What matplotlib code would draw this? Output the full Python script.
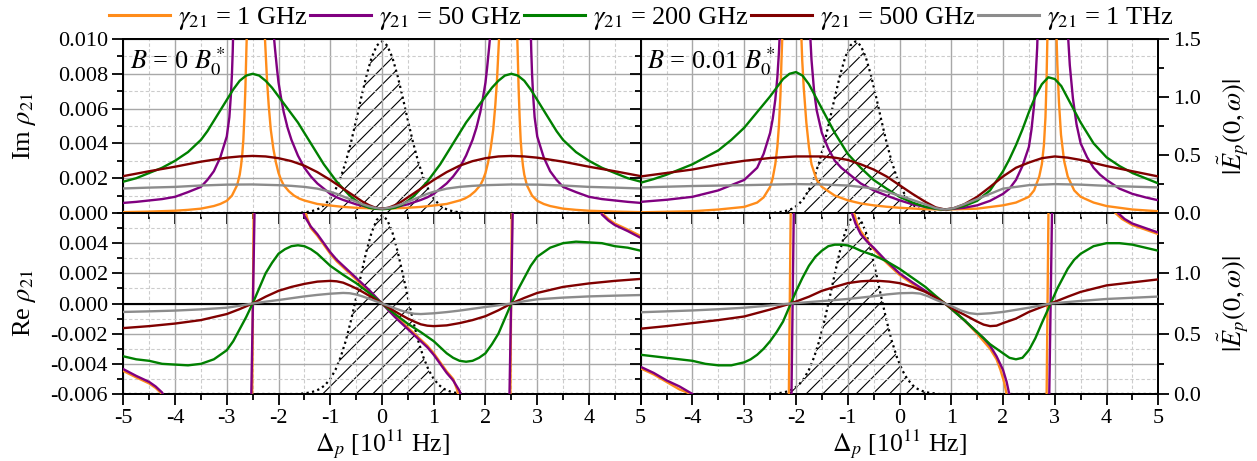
import matplotlib
matplotlib.use("Agg")
import matplotlib.pyplot as plt
from matplotlib.ticker import MultipleLocator, FixedLocator, FormatStrFormatter
from matplotlib.lines import Line2D

plt.rcParams['font.family'] = ['Liberation Serif', 'DejaVu Serif']
plt.rcParams['mathtext.fontset'] = 'stix'
plt.rcParams['axes.unicode_minus'] = False
plt.rcParams['hatch.linewidth'] = 0.8

# ---------------------------------------------------------------- data
series_labels = [r'$\gamma_{21}$ = 1 GHz', r'$\gamma_{21}$ = 50 GHz',
                 r'$\gamma_{21}$ = 200 GHz', r'$\gamma_{21}$ = 500 GHz',
                 r'$\gamma_{21}$ = 1 THz']
series_colors = ['#ff8c1a', '#800080', '#008000', '#800000', '#8c8c8c']
field_labels = [r'$B$ = 0 $B_0^*$', r'$B$ = 0.01 $B_0^*$']

# Im rho21, B = 0  (detuning in 1e11 Hz, value)
im_b0_1ghz = [(-5, 0.00005), (-4.5, 0.00008), (-4, 0.00013), (-3.75, 0.00018), (-3.5, 0.00025),
              (-3.25, 0.0004), (-3.125, 0.00052), (-3, 0.0007), (-2.95, 0.00085), (-2.9, 0.001),
              (-2.85, 0.0013), (-2.8, 0.0016), (-2.775, 0.0019), (-2.75, 0.0022), (-2.725, 0.0027),
              (-2.7, 0.0034), (-2.68, 0.0042), (-2.66, 0.0055), (-2.64, 0.0072), (-2.62, 0.0095),
              (-2.61, 0.0105), (-2.27, 0.0105), (-2.25, 0.0093), (-2.22, 0.0075), (-2.19, 0.0062),
              (-2.15, 0.0048), (-2.1, 0.0037), (-2.05, 0.0029), (-2.0, 0.0023), (-1.95, 0.0019),
              (-1.9, 0.0016), (-1.8, 0.00125), (-1.7, 0.001), (-1.6, 0.00083), (-1.5, 0.00072),
              (-1.25, 0.00052), (-1.0, 0.00043), (-0.75, 0.00035), (-0.5, 0.0003), (-0.25, 0.00027),
              (0, 0.00025),
              (0.25, 0.00027), (0.5, 0.0003), (0.75, 0.00035), (1.0, 0.00043), (1.25, 0.00052),
              (1.5, 0.00072), (1.6, 0.00083), (1.7, 0.001), (1.8, 0.00125), (1.9, 0.0016),
              (1.95, 0.0019), (2.0, 0.0023), (2.05, 0.0029), (2.1, 0.0037), (2.15, 0.0048),
              (2.19, 0.0062), (2.22, 0.0075), (2.25, 0.0093), (2.27, 0.0105), (2.61, 0.0105),
              (2.62, 0.0095), (2.64, 0.0072), (2.66, 0.0055), (2.68, 0.0042), (2.7, 0.0034),
              (2.725, 0.0027), (2.75, 0.0022), (2.775, 0.0019), (2.8, 0.0016), (2.85, 0.0013),
              (2.9, 0.001), (2.95, 0.00085), (3, 0.0007), (3.125, 0.00052), (3.25, 0.0004),
              (3.5, 0.00025), (3.75, 0.00018), (4, 0.00013), (4.5, 0.00008), (5, 0.00005)]
im_b0_50ghz = [(-5, 0.00058), (-4.75, 0.00064), (-4.5, 0.00072), (-4.25, 0.0008), (-4, 0.00093),
               (-3.75, 0.0012), (-3.5, 0.0015), (-3.375, 0.0019), (-3.25, 0.0024), (-3.125, 0.0032),
               (-3.0, 0.0044), (-2.95, 0.0055), (-2.92, 0.0068), (-2.9, 0.008), (-2.885, 0.0093),
               (-2.875, 0.0105), (-2.1, 0.0105), (-2.07, 0.0095), (-2.03, 0.0083),
               (-2.0, 0.0075), (-1.95, 0.0066), (-1.9, 0.0058), (-1.825, 0.0049), (-1.75, 0.0042),
               (-1.625, 0.0033), (-1.5, 0.0026), (-1.375, 0.0021), (-1.25, 0.0017),
               (-1.125, 0.0014), (-1.0, 0.0011), (-0.875, 0.0009), (-0.75, 0.00075),
               (-0.5, 0.0005), (-0.25, 0.00033), (0, 0.00025),
               (0.25, 0.00033), (0.5, 0.0005), (0.75, 0.00075), (0.875, 0.0009), (1.0, 0.0011),
               (1.125, 0.0014), (1.25, 0.0017), (1.375, 0.0021), (1.5, 0.0026), (1.625, 0.0033),
               (1.75, 0.0042), (1.825, 0.0049), (1.9, 0.0058), (1.95, 0.0066), (2.0, 0.0075),
               (2.03, 0.0083), (2.07, 0.0095), (2.1, 0.0105), (2.875, 0.0105), (2.885, 0.0093),
               (2.9, 0.008), (2.92, 0.0068), (2.95, 0.0055), (3.0, 0.0044), (3.125, 0.0032),
               (3.25, 0.0024), (3.375, 0.0019), (3.5, 0.0015), (3.75, 0.0012),
               (4, 0.00093), (4.25, 0.0008), (4.5, 0.00072), (4.75, 0.00064), (5, 0.00058)]
im_b0_200ghz = [(-5, 0.0018), (-4.75, 0.002), (-4.5, 0.0023), (-4.25, 0.0026), (-4, 0.003),
                (-3.75, 0.0035), (-3.5, 0.0042), (-3.375, 0.0047), (-3.25, 0.0053),
                (-3.125, 0.0059), (-3, 0.0065), (-2.875, 0.0071), (-2.75, 0.0076),
                (-2.625, 0.0079), (-2.5, 0.008), (-2.375, 0.0079), (-2.25, 0.0076),
                (-2.125, 0.0072), (-2, 0.0067), (-1.875, 0.0062), (-1.75, 0.0057),
                (-1.625, 0.0052), (-1.5, 0.0046), (-1.375, 0.004), (-1.25, 0.0034),
                (-1.125, 0.0028), (-1, 0.0023), (-0.875, 0.0018), (-0.75, 0.0014),
                (-0.625, 0.001), (-0.5, 0.0007), (-0.375, 0.00045), (-0.25, 0.0003),
                (-0.125, 0.00024), (0, 0.00022),
                (0.125, 0.00024), (0.25, 0.0003), (0.375, 0.00045), (0.5, 0.0007), (0.625, 0.001),
                (0.75, 0.0014), (0.875, 0.0018), (1, 0.0023), (1.125, 0.0028), (1.25, 0.0034),
                (1.375, 0.004), (1.5, 0.0046), (1.625, 0.0052), (1.75, 0.0057), (1.875, 0.0062),
                (2, 0.0067), (2.125, 0.0072), (2.25, 0.0076), (2.375, 0.0079), (2.5, 0.008),
                (2.625, 0.0079), (2.75, 0.0076), (2.875, 0.0071), (3, 0.0065), (3.125, 0.0059),
                (3.25, 0.0053), (3.375, 0.0047), (3.5, 0.0042), (3.75, 0.0035), (4, 0.003),
                (4.25, 0.0026), (4.5, 0.0023), (4.75, 0.002), (5, 0.0018)]
im_b0_500ghz = [(-5, 0.00212), (-4.5, 0.0024), (-4, 0.00266), (-3.5, 0.00295), (-3, 0.00318),
                (-2.75, 0.00325), (-2.5, 0.00328), (-2.25, 0.00325), (-2, 0.00315),
                (-1.75, 0.00298), (-1.5, 0.00272), (-1.25, 0.00235), (-1, 0.0019),
                (-0.875, 0.00165), (-0.75, 0.0014), (-0.625, 0.00115), (-0.5, 0.0009),
                (-0.375, 0.00065), (-0.25, 0.00045), (-0.125, 0.0003), (0, 0.00025),
                (0.125, 0.0003), (0.25, 0.00045), (0.375, 0.00065), (0.5, 0.0009),
                (0.625, 0.00115), (0.75, 0.0014), (0.875, 0.00165), (1, 0.0019), (1.25, 0.00235),
                (1.5, 0.00272), (1.75, 0.00298), (2, 0.00315), (2.25, 0.00325), (2.5, 0.00328),
                (2.75, 0.00325), (3, 0.00318), (3.5, 0.00295), (4, 0.00266), (4.5, 0.0024),
                (5, 0.00212)]
im_b0_1thz = [(-5, 0.00141), (-4.5, 0.00146), (-4, 0.0015), (-3.5, 0.00158), (-3, 0.00163),
              (-2.5, 0.00164), (-2, 0.0016), (-1.75, 0.00156), (-1.5, 0.0015), (-1.25, 0.0014),
              (-1, 0.00122), (-0.875, 0.0011), (-0.75, 0.00095), (-0.625, 0.0008),
              (-0.5, 0.00065), (-0.375, 0.0005), (-0.25, 0.00038), (-0.125, 0.00029), (0, 0.00025),
              (0.125, 0.00029), (0.25, 0.00038), (0.375, 0.0005), (0.5, 0.00065), (0.625, 0.0008),
              (0.75, 0.00095), (0.875, 0.0011), (1, 0.00122), (1.25, 0.0014), (1.5, 0.0015),
              (1.75, 0.00156), (2, 0.0016), (2.5, 0.00164), (3, 0.00163), (3.5, 0.00158),
              (4, 0.0015), (4.5, 0.00146), (5, 0.00141)]

# Re rho21, B = 0
re_b0_1ghz = [(-5, -0.00447), (-4.75, -0.0049), (-4.5, -0.0053), (-4.375, -0.0056), (-4.25, -0.006),
              (-4.2, -0.0068), (-2.51, -0.0068), (-2.48, 0.0068), (-1.53, 0.0068), (-1.45, 0.0057),
              (-1.375, 0.005), (-1.25, 0.0045), (-1.125, 0.0039), (-1, 0.0033), (-0.875, 0.0028),
              (-0.75, 0.0024), (-0.625, 0.002), (-0.5, 0.0016), (-0.375, 0.0012), (-0.25, 0.0008),
              (-0.125, 0.0004), (0, 0),
              (0.125, -0.0004), (0.25, -0.0008), (0.375, -0.0012), (0.5, -0.0016), (0.625, -0.002),
              (0.75, -0.0024), (0.875, -0.0028), (1, -0.0033), (1.125, -0.0039), (1.25, -0.0045),
              (1.375, -0.005), (1.45, -0.0057), (1.53, -0.0068), (2.48, -0.0068), (2.51, 0.0068),
              (4.2, 0.0068), (4.25, 0.006), (4.375, 0.0056), (4.5, 0.0053), (4.75, 0.0049),
              (5, 0.00447)]
re_b0_50ghz = [(-5, -0.00435), (-4.75, -0.0048), (-4.5, -0.0052), (-4.375, -0.0055),
               (-4.25, -0.0059), (-4.15, -0.0068), (-2.53, -0.0068), (-2.46, 0.0068),
               (-1.58, 0.0068), (-1.5, 0.0058), (-1.375, 0.0051), (-1.25, 0.0046),
               (-1.125, 0.004), (-1, 0.0034), (-0.875, 0.0029), (-0.75, 0.0025), (-0.625, 0.0021),
               (-0.5, 0.0017), (-0.375, 0.0013), (-0.25, 0.0009), (-0.125, 0.00045), (0, 0),
               (0.125, -0.00045), (0.25, -0.0009), (0.375, -0.0013), (0.5, -0.0017),
               (0.625, -0.0021), (0.75, -0.0025), (0.875, -0.0029), (1, -0.0034),
               (1.125, -0.004), (1.25, -0.0046), (1.375, -0.0051), (1.5, -0.0058),
               (1.58, -0.0068), (2.46, -0.0068), (2.53, 0.0068), (4.15, 0.0068), (4.25, 0.0059),
               (4.375, 0.0055), (4.5, 0.0052), (4.75, 0.0048), (5, 0.00435)]
re_b0_200ghz = [(-5, -0.0035), (-4.75, -0.0037), (-4.5, -0.0038), (-4.25, -0.004), (-4, -0.00405),
                (-3.75, -0.0041), (-3.5, -0.004), (-3.25, -0.0037), (-3.125, -0.0034),
                (-3, -0.0031), (-2.875, -0.0025), (-2.75, -0.0017), (-2.625, -0.0009), (-2.5, 0),
                (-2.375, 0.001), (-2.25, 0.002), (-2.125, 0.0027), (-2, 0.0033), (-1.875, 0.0036),
                (-1.75, 0.0038), (-1.625, 0.00386), (-1.5, 0.0038), (-1.375, 0.0036),
                (-1.25, 0.0033), (-1.125, 0.0029), (-1, 0.0025), (-0.875, 0.0022),
                (-0.75, 0.0019), (-0.5, 0.00135), (-0.25, 0.0007), (0, 0),
                (0.25, -0.0007), (0.5, -0.00135), (0.75, -0.0019), (0.875, -0.0022), (1, -0.0025),
                (1.125, -0.0029), (1.25, -0.0033), (1.375, -0.0036), (1.5, -0.0038),
                (1.625, -0.00386), (1.75, -0.0038), (1.875, -0.0036), (2, -0.0033),
                (2.125, -0.0027), (2.25, -0.002), (2.375, -0.001), (2.5, 0), (2.625, 0.0009),
                (2.75, 0.0017), (2.875, 0.0025), (3, 0.0031), (3.125, 0.0034), (3.25, 0.0037),
                (3.5, 0.004), (3.75, 0.0041), (4, 0.00405), (4.25, 0.004), (4.5, 0.0038),
                (4.75, 0.0037), (5, 0.0035)]
re_b0_500ghz = [(-5, -0.00163), (-4.5, -0.0015), (-4, -0.00133), (-3.5, -0.0011), (-3, -0.0007),
                (-2.75, -0.00037), (-2.5, 0), (-2.25, 0.00045), (-2, 0.00084), (-1.75, 0.0011),
                (-1.5, 0.0013), (-1.25, 0.00145), (-1, 0.0015), (-0.875, 0.00147),
                (-0.75, 0.00138), (-0.625, 0.0012), (-0.5, 0.001), (-0.375, 0.00077),
                (-0.25, 0.00052), (-0.125, 0.00026), (0, 0),
                (0.125, -0.00026), (0.25, -0.00052), (0.375, -0.00077), (0.5, -0.001),
                (0.625, -0.0012), (0.75, -0.00138), (0.875, -0.00147), (1, -0.0015),
                (1.25, -0.00145), (1.5, -0.0013), (1.75, -0.0011), (2, -0.00084),
                (2.25, -0.00045), (2.5, 0), (2.75, 0.00037), (3, 0.0007), (3.5, 0.0011),
                (4, 0.00133), (4.5, 0.0015), (5, 0.00163)]
re_b0_1thz = [(-5, -0.00056), (-4.5, -0.00052), (-4, -0.00047), (-3.5, -0.00039), (-3, -0.00028),
              (-2.75, -0.00015), (-2.5, 0), (-2.25, 0.00012), (-2, 0.00023), (-1.75, 0.00035),
              (-1.5, 0.00047), (-1.25, 0.00057), (-1, 0.00065), (-0.75, 0.0007),
              (-0.625, 0.00068), (-0.5, 0.0006), (-0.375, 0.00047), (-0.25, 0.00032),
              (-0.125, 0.00016), (0, 0),
              (0.125, -0.00016), (0.25, -0.00032), (0.375, -0.00047), (0.5, -0.0006),
              (0.625, -0.00068), (0.75, -0.0007), (1, -0.00065), (1.25, -0.00057),
              (1.5, -0.00047), (1.75, -0.00035), (2, -0.00023), (2.25, -0.00012), (2.5, 0),
              (2.75, 0.00015), (3, 0.00028), (3.5, 0.00039), (4, 0.00047), (4.5, 0.00052),
              (5, 0.00056)]

# Im rho21, B = 0.01 B0*
im_b1_1ghz = [(-5, 0.00004), (-4.5, 0.00007), (-4, 0.0001), (-3.5, 0.0002), (-3, 0.00035),
              (-2.75, 0.0006), (-2.625, 0.0009), (-2.5, 0.0015), (-2.45, 0.002), (-2.4, 0.0028),
              (-2.36, 0.0038), (-2.33, 0.005), (-2.3, 0.0068), (-2.28, 0.0088), (-2.26, 0.0105),
              (-1.9, 0.0105), (-1.88, 0.0088), (-1.85, 0.0072), (-1.8, 0.0052), (-1.75, 0.0038),
              (-1.7, 0.0028), (-1.6, 0.0019), (-1.5, 0.0015), (-1.25, 0.001), (-1, 0.00073),
              (-0.75, 0.00055), (-0.5, 0.00044), (-0.25, 0.00036), (0, 0.0003), (0.5, 0.00022),
              (0.88, 0.0002), (1.5, 0.00025), (2, 0.00044), (2.25, 0.0006), (2.5, 0.00093),
              (2.6, 0.0013), (2.7, 0.0021), (2.75, 0.0028), (2.79, 0.0039), (2.82, 0.0055),
              (2.84, 0.0075), (2.86, 0.0105), (3.03, 0.0105), (3.05, 0.0085), (3.08, 0.0064),
              (3.12, 0.0045), (3.18, 0.003), (3.25, 0.0021), (3.375, 0.0013), (3.5, 0.00093),
              (3.75, 0.0006), (4, 0.0004), (4.5, 0.0002), (5, 0.0001)]
im_b1_50ghz = [(-5, 0.00064), (-4.5, 0.00076), (-4, 0.00093), (-3.5, 0.0013), (-3.25, 0.0016),
               (-3, 0.0019), (-2.75, 0.0026), (-2.625, 0.0034), (-2.5, 0.0046), (-2.45, 0.0054),
               (-2.4, 0.0065), (-2.36, 0.0078), (-2.33, 0.0092), (-2.31, 0.0105), (-1.73, 0.0105),
               (-1.7, 0.0088), (-1.65, 0.007), (-1.6, 0.0059), (-1.5, 0.0046), (-1.375, 0.0037),
               (-1.25, 0.003), (-1.125, 0.0026), (-1, 0.0023), (-0.75, 0.0017), (-0.5, 0.0013),
               (-0.25, 0.001), (0, 0.00073), (0.25, 0.0005), (0.5, 0.00035), (0.7, 0.00025),
               (0.88, 0.0002), (1.25, 0.0003), (1.5, 0.00044), (1.75, 0.0007), (2, 0.0011),
               (2.125, 0.0014), (2.25, 0.0019), (2.375, 0.0027), (2.5, 0.0038), (2.55, 0.0048),
               (2.6, 0.0062), (2.63, 0.0078), (2.66, 0.0095), (2.67, 0.0105), (3.25, 0.0105),
               (3.29, 0.0085), (3.35, 0.0066), (3.42, 0.0051), (3.5, 0.004), (3.625, 0.0032),
               (3.75, 0.0026), (3.875, 0.0022), (4, 0.0019), (4.25, 0.0014), (4.5, 0.0011),
               (4.75, 0.0009), (5, 0.00073)]
im_b1_200ghz = [(-5, 0.00174), (-4.75, 0.00195), (-4.5, 0.0022), (-4.25, 0.0025), (-4, 0.0028),
                (-3.75, 0.0032), (-3.5, 0.0036), (-3.25, 0.0042), (-3, 0.0049), (-2.75, 0.0058),
                (-2.5, 0.0067), (-2.375, 0.0072), (-2.25, 0.0077), (-2.125, 0.008), (-2, 0.0081),
                (-1.875, 0.0079), (-1.75, 0.0074), (-1.625, 0.0067), (-1.5, 0.006),
                (-1.375, 0.0053), (-1.25, 0.0046), (-1.125, 0.004), (-1, 0.0034),
                (-0.75, 0.0026), (-0.5, 0.0019), (-0.25, 0.0014), (0, 0.00093), (0.25, 0.0006),
                (0.5, 0.00035), (0.75, 0.00022), (0.88, 0.0002), (1, 0.00023), (1.25, 0.0004),
                (1.5, 0.0007), (1.75, 0.0013), (2, 0.0024), (2.125, 0.0031), (2.25, 0.0039),
                (2.375, 0.0048), (2.5, 0.0058), (2.625, 0.0067), (2.75, 0.0074), (2.875, 0.0078),
                (3, 0.0077), (3.125, 0.0073), (3.25, 0.0066), (3.375, 0.0059), (3.5, 0.0052),
                (3.75, 0.004), (4, 0.0032), (4.25, 0.0027), (4.5, 0.0023), (4.75, 0.002),
                (5, 0.0017)]
im_b1_500ghz = [(-5, 0.0021), (-4.5, 0.0023), (-4, 0.0025), (-3.5, 0.00278), (-3, 0.003),
                (-2.5, 0.00316), (-2, 0.00325), (-1.5, 0.00325), (-1.25, 0.00318), (-1, 0.00305),
                (-0.75, 0.0028), (-0.5, 0.0025), (-0.25, 0.0021), (0, 0.0016), (0.25, 0.0011),
                (0.5, 0.00064), (0.7, 0.00032), (0.88, 0.0002), (1.05, 0.00028), (1.25, 0.0005),
                (1.5, 0.00093), (1.75, 0.0015), (2, 0.0021), (2.25, 0.0026), (2.5, 0.0029),
                (2.75, 0.00315), (3, 0.00325), (3.25, 0.00318), (3.5, 0.00305), (4, 0.0027),
                (4.5, 0.0024), (5, 0.0021)]
im_b1_1thz = [(-5, 0.00147), (-4, 0.00155), (-3, 0.0016), (-2, 0.00166), (-1.5, 0.00164),
              (-1, 0.00158), (-0.75, 0.0015), (-0.5, 0.0014), (-0.25, 0.00122), (0, 0.001),
              (0.25, 0.00075), (0.5, 0.0005), (0.7, 0.00028), (0.88, 0.0002), (1.05, 0.00028),
              (1.25, 0.0005), (1.5, 0.0008), (1.75, 0.0011), (2, 0.0014), (2.5, 0.0016),
              (3, 0.00166), (3.5, 0.00163), (4, 0.00156), (5, 0.00147)]

# Re rho21, B = 0.01 B0*
re_b1_1ghz = [(-5, -0.0043), (-4.75, -0.0047), (-4.5, -0.0052), (-4.25, -0.0057), (-4.1, -0.0059),
              (-4.05, -0.006), (-3.95, -0.0068), (-2.14, -0.0068), (-2.1, 0.0068), (-0.95, 0.0068),
              (-0.88, 0.006), (-0.82, 0.0053), (-0.75, 0.0048), (-0.625, 0.0042), (-0.5, 0.0036),
              (-0.25, 0.0027), (0, 0.0019), (0.25, 0.0013), (0.5, 0.0008), (0.7, 0.0004),
              (0.88, 0), (1.05, -0.0005), (1.25, -0.0011), (1.5, -0.002), (1.625, -0.0025),
              (1.75, -0.003), (1.875, -0.0037), (1.95, -0.0044), (2.02, -0.0052), (2.07, -0.006),
              (2.12, -0.0068), (2.84, -0.0068), (2.88, 0.0068), (4.1, 0.0068), (4.17, 0.006),
              (4.3, 0.0056), (4.5, 0.0052), (4.75, 0.0049), (5, 0.0046)]
re_b1_50ghz = [(-5, -0.0042), (-4.75, -0.0046), (-4.5, -0.0051), (-4.25, -0.0055), (-4.1, -0.0058),
               (-4.0, -0.006), (-3.9, -0.0068), (-2.09, -0.0068), (-2.04, 0.0068), (-1.0, 0.0068),
               (-0.92, 0.006), (-0.85, 0.0053), (-0.75, 0.0046), (-0.625, 0.0041), (-0.5, 0.0037),
               (-0.25, 0.0028), (0, 0.002), (0.25, 0.0014), (0.5, 0.00084), (0.7, 0.0004),
               (0.88, 0), (1.05, -0.0005), (1.25, -0.0011), (1.5, -0.0019), (1.625, -0.0023),
               (1.75, -0.0028), (1.875, -0.0035), (2, -0.0044), (2.07, -0.0052), (2.12, -0.006),
               (2.17, -0.0068), (2.89, -0.0068), (2.95, 0.0068), (4.15, 0.0068), (4.22, 0.006),
               (4.35, 0.0056), (4.5, 0.0053), (4.75, 0.005), (5, 0.0047)]
re_b1_200ghz = [(-5, -0.0034), (-4.5, -0.0036), (-4, -0.0038), (-3.75, -0.004), (-3.5, -0.0041),
                (-3.25, -0.0041), (-3, -0.0039), (-2.875, -0.0037), (-2.75, -0.0034),
                (-2.625, -0.003), (-2.5, -0.0025), (-2.375, -0.0019), (-2.25, -0.0012),
                (-2.1, 0), (-2, 0.0008), (-1.875, 0.0017), (-1.75, 0.0025), (-1.625, 0.0031),
                (-1.5, 0.0035), (-1.375, 0.0038), (-1.25, 0.0039), (-1.125, 0.0039),
                (-1, 0.00385), (-0.875, 0.0037), (-0.75, 0.0035), (-0.5, 0.0032),
                (-0.25, 0.0028), (0, 0.0023), (0.25, 0.0017), (0.5, 0.0011), (0.7, 0.0005),
                (0.88, 0), (1.05, -0.0005), (1.25, -0.0011), (1.5, -0.0019), (1.75, -0.0027),
                (2, -0.0033), (2.125, -0.0036), (2.25, -0.0037), (2.375, -0.0036),
                (2.5, -0.0031), (2.625, -0.0023), (2.75, -0.0013), (2.92, 0), (3.05, 0.001),
                (3.25, 0.0023), (3.375, 0.0029), (3.5, 0.0033), (3.75, 0.0038), (4, 0.004),
                (4.25, 0.004), (4.5, 0.0039), (4.75, 0.0037), (5, 0.0035)]
re_b1_500ghz = [(-5, -0.00167), (-4.5, -0.0015), (-4, -0.0013), (-3.5, -0.0011), (-3, -0.00086),
                (-2.5, -0.0004), (-2.1, 0), (-1.75, 0.00045), (-1.5, 0.00084), (-1.25, 0.0011),
                (-1, 0.00135), (-0.75, 0.00147), (-0.6, 0.0015), (-0.4, 0.0015), (-0.2, 0.00145),
                (0, 0.00135), (0.25, 0.0011), (0.5, 0.00077), (0.7, 0.0004), (0.88, 0),
                (1.05, -0.0004), (1.25, -0.00074), (1.5, -0.0012), (1.625, -0.0014),
                (1.75, -0.0015), (1.875, -0.00147), (2, -0.0013), (2.25, -0.001), (2.5, -0.00056),
                (2.92, 0), (3.25, 0.00045), (3.5, 0.00077), (4, 0.0012), (4.5, 0.0014),
                (5, 0.0016)]
re_b1_1thz = [(-5, -0.00058), (-4.5, -0.00052), (-4, -0.00046), (-3.5, -0.00038), (-3, -0.00028),
              (-2.5, -0.00013), (-2.1, 0), (-1.5, 0.00016), (-1, 0.0003), (-0.5, 0.00048),
              (-0.25, 0.0006), (0, 0.00068), (0.25, 0.0007), (0.4, 0.00066), (0.55, 0.00048),
              (0.7, 0.00025), (0.88, 0), (1.05, -0.00025), (1.2, -0.00048), (1.35, -0.00064),
              (1.5, -0.0007), (1.75, -0.00065), (2, -0.00056), (2.5, -0.00028), (2.92, 0),
              (3.5, 0.00017), (4, 0.0003), (4.5, 0.00038), (5, 0.00046)]

# probe spectrum |E_p(0, w)|
probe_b0 = [(-5, 0), (-1.6, 0), (-1.5, 0.006), (-1.4, 0.012), (-1.3, 0.023), (-1.2, 0.042),
            (-1.1, 0.074), (-1.0, 0.125), (-0.9, 0.2), (-0.8, 0.305), (-0.7, 0.441),
            (-0.6, 0.608), (-0.5, 0.798), (-0.4, 0.997), (-0.3, 1.185), (-0.2, 1.341),
            (-0.1, 1.444), (0, 1.48), (0.1, 1.444), (0.2, 1.341), (0.3, 1.185), (0.4, 0.997),
            (0.5, 0.798), (0.6, 0.608), (0.7, 0.441), (0.8, 0.305), (0.9, 0.2), (1.0, 0.125),
            (1.1, 0.074), (1.2, 0.042), (1.3, 0.023), (1.4, 0.012), (1.5, 0.006), (1.6, 0),
            (5, 0)]
probe_b1 = [(-5, 0), (-2.45, 0), (-2.35, 0.006), (-2.25, 0.012), (-2.15, 0.023), (-2.05, 0.042),
            (-1.95, 0.074), (-1.85, 0.125), (-1.75, 0.2), (-1.65, 0.305), (-1.55, 0.441),
            (-1.45, 0.608), (-1.35, 0.798), (-1.25, 0.997), (-1.15, 1.185), (-1.05, 1.341),
            (-0.95, 1.444), (-0.85, 1.48), (-0.75, 1.444), (-0.65, 1.341), (-0.55, 1.185),
            (-0.45, 0.997), (-0.35, 0.798), (-0.25, 0.608), (-0.15, 0.441), (-0.05, 0.305),
            (0.05, 0.2), (0.15, 0.125), (0.25, 0.074), (0.35, 0.042), (0.45, 0.023),
            (0.55, 0.012), (0.65, 0.006), (0.75, 0), (5, 0)]

im_b0 = [im_b0_1ghz, im_b0_50ghz, im_b0_200ghz, im_b0_500ghz, im_b0_1thz]
re_b0 = [re_b0_1ghz, re_b0_50ghz, re_b0_200ghz, re_b0_500ghz, re_b0_1thz]
im_b1 = [im_b1_1ghz, im_b1_50ghz, im_b1_200ghz, im_b1_500ghz, im_b1_1thz]
re_b1 = [re_b1_1ghz, re_b1_50ghz, re_b1_200ghz, re_b1_500ghz, re_b1_1thz]

# ---------------------------------------------------------------- layout
W, H = 1257, 461
fig = plt.figure(figsize=(W / 100, H / 100), dpi=100)
x_left, x_mid, x_right = 123.3 / W, 640.7 / W, 1158.3 / W
y_top, y_mid, y_bot = 1 - 39 / H, 1 - 213 / H, 1 - 394 / H

TICK_FS = 16
LABEL_FS = 19
LW = 1.7


def xy(pairs):
    return [p[0] for p in pairs], [p[1] for p in pairs]


def make_panel(rect, is_top, is_left, curves, probe):
    ax = fig.add_axes(rect)
    ax2 = ax.twinx()
    ax.set_zorder(ax2.get_zorder() + 1)
    ax.patch.set_visible(False)

    ax.set_xlim(-5, 5)
    ax.xaxis.set_major_locator(MultipleLocator(1))
    ax.xaxis.set_minor_locator(MultipleLocator(0.5))
    if is_top:
        ax.set_ylim(0, 0.010)
        ax.yaxis.set_major_locator(FixedLocator([0, 0.002, 0.004, 0.006, 0.008, 0.010]))
    else:
        ax.set_ylim(-0.006, 0.006)
        ax.yaxis.set_major_locator(FixedLocator([-0.006, -0.004, -0.002, 0, 0.002, 0.004]))
    ax.yaxis.set_minor_locator(MultipleLocator(0.001))
    ax.yaxis.set_major_formatter(FormatStrFormatter('%.3f'))
    ax.xaxis.set_major_formatter(FormatStrFormatter('%d'))

    ax.grid(which='major', color='#a8a8a8', lw=1.0, ls='-')
    ax.grid(which='minor', color='#cccccc', lw=0.8, ls=(0, (3, 2)))
    ax.set_axisbelow(True)

    ax.tick_params(which='both', direction='out', width=1.3, color='black',
                   top=False, right=False, labelsize=TICK_FS)
    ax.tick_params(which='major', length=8)
    ax.tick_params(which='minor', length=4.5)
    ax.tick_params(axis='x', pad=3)
    ax.tick_params(axis='y', pad=3)
    if is_top:
        ax.tick_params(labelbottom=False)
    if not is_left:
        ax.tick_params(labelleft=False)
        if not is_top:
            labels = ['' if v == -5 else str(v) for v in range(-5, 6)]
            ax.set_xticks(range(-5, 6))
            ax.set_xticklabels(labels)

    for sp in list(ax.spines.values()) + list(ax2.spines.values()):
        sp.set_linewidth(1.4)

    if not is_top:
        ax.axhline(0, color='black', lw=1.5, zorder=2)

    for pairs, col in zip(curves, series_colors):
        xs, ys = xy(pairs)
        ax.plot(xs, ys, color=col, lw=LW, zorder=3, solid_joinstyle='round')

    # probe spectrum on the right-hand scale
    ax2.set_ylim(0, 1.5)
    gx, gy = xy(probe)
    ax2.fill_between(gx, 0, gy, facecolor='none', edgecolor='black', hatch='//', lw=0)
    ax2.plot(gx, gy, color='black', lw=1.6, ls=(0, (1, 1.5)))
    if is_left:
        ax2.tick_params(right=False, labelright=False, which='both')
    else:
        if is_top:
            ax2.yaxis.set_major_locator(FixedLocator([0, 0.5, 1.0, 1.5]))
        else:
            ax2.yaxis.set_major_locator(FixedLocator([0, 0.5, 1.0]))
        ax2.yaxis.set_minor_locator(FixedLocator([0.25, 0.75, 1.25]))
        ax2.yaxis.set_major_formatter(FormatStrFormatter('%.1f'))
        ax2.tick_params(which='both', direction='out', width=1.3, labelsize=TICK_FS, pad=3)
        ax2.tick_params(which='major', length=8)
        ax2.tick_params(which='minor', length=4.5)
    return ax, ax2


ax_tl, _ = make_panel([x_left, y_mid, x_mid - x_left, y_top - y_mid], True, True, im_b0, probe_b0)
ax_bl, _ = make_panel([x_left, y_bot, x_mid - x_left, y_mid - y_bot], False, True, re_b0, probe_b0)
ax_tr, _ = make_panel([x_mid, y_mid, x_right - x_mid, y_top - y_mid], True, False, im_b1, probe_b1)
ax_br, _ = make_panel([x_mid, y_bot, x_right - x_mid, y_mid - y_bot], False, False, re_b1, probe_b1)

# field annotations
ax_tl.text(0.012, 0.965, field_labels[0], transform=ax_tl.transAxes, va='top', ha='left',
           fontsize=LABEL_FS, zorder=5)
ax_tr.text(0.012, 0.965, field_labels[1], transform=ax_tr.transAxes, va='top', ha='left',
           fontsize=LABEL_FS, zorder=5)

# axis titles
fig.text(25 / W, 1 - 126 / H, r'Im $\rho_{21}$', rotation=90, ha='center', va='center',
         fontsize=LABEL_FS)
fig.text(25 / W, 1 - 303 / H, r'Re $\rho_{21}$', rotation=90, ha='center', va='center',
         fontsize=LABEL_FS)
for yc in (126, 303):
    fig.text(1233 / W, 1 - yc / H, r'$|\tilde{E}_p(0,\omega)|$', rotation=90, ha='center',
             va='center', fontsize=LABEL_FS)
for xc in ((123.3 + 640.7) / 2, (640.7 + 1158.3) / 2):
    fig.text(xc / W, 1 - 444.5 / H, r'$\Delta_p$ [10$^{11}$ Hz]', ha='center', va='center',
             fontsize=18.5)

# legend
handles = [Line2D([], [], color=c, lw=2.2) for c in series_colors]
fig.legend(handles, series_labels, loc='upper center', bbox_to_anchor=(0.5103, 1.0),
           ncol=5, frameon=False, fontsize=LABEL_FS, handlelength=2.3, handletextpad=0.3,
           columnspacing=0.1, borderaxespad=0.1, borderpad=0.1)

fig.savefig('out.png', dpi=100)
